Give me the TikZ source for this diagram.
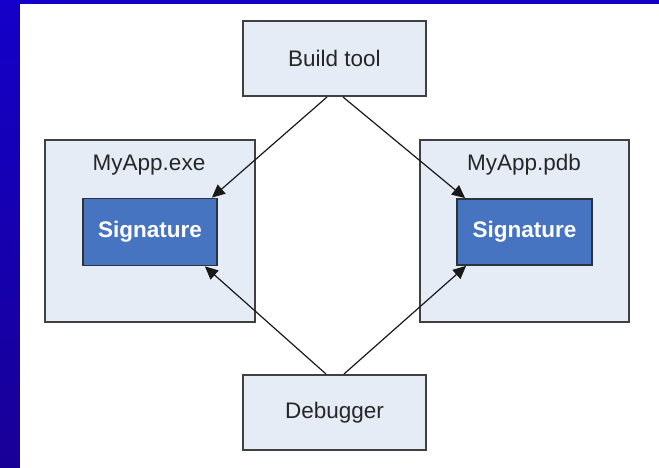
\documentclass[tikz,border=0pt]{standalone}
\usepackage{fontspec}
\setmainfont{Liberation Sans}
\usetikzlibrary{arrows.meta}
\definecolor{bgblue}{RGB}{20,0,200}
\definecolor{bgblue2}{RGB}{24,0,150}
\definecolor{boxfill}{RGB}{230,236,246}
\definecolor{boxline}{RGB}{64,64,64}
\definecolor{sigfill}{RGB}{70,116,193}
\definecolor{sigline}{RGB}{45,50,60}
\definecolor{arrowcol}{RGB}{25,25,25}
\tikzset{
  lightbox/.style={draw=boxline, line width=2pt, fill=boxfill, inner sep=0pt},
  sigbox/.style={draw=sigline, line width=1.8pt, fill=sigfill, inner sep=0pt, text=white, font=\fontsize{22.5}{26}\selectfont\bfseries},
  lbl/.style={font=\fontsize{22.5}{26}\selectfont, text=black!85},
  arr/.style={draw=arrowcol, line width=1.2pt, -{Triangle[length=13pt,width=12pt]}},
}
\begin{document}
\begin{tikzpicture}[x=1pt,y=-1pt]
\useasboundingbox (0,0) rectangle (659,468);
\shade[top color=bgblue, bottom color=bgblue2] (0,0) rectangle (659,468);
\fill[white] (20,4) rectangle (659,468);
% boxes
\node[lightbox, minimum width=183pt, minimum height=75pt] (build) at (334.5,58.5) {};
\node[lbl] at (build.center) {Build tool};
\node[lightbox, minimum width=183pt, minimum height=75pt] (debug) at (334.5,412.5) {};
\node[lbl] at (debug.center) {Debugger};
\node[lightbox, minimum width=210pt, minimum height=182pt] (exe) at (150,231) {};
\node[lbl] (exelbl) at (149,165) {MyApp.exe};
\node[lightbox, minimum width=209pt, minimum height=182pt] (pdb) at (524.5,231) {};
\node[lbl] (pdblbl) at (524,165) {MyApp.pdb};
\node[sigbox, minimum width=134pt, minimum height=67pt] (sigL) at (150,232) {Signature};
\node[sigbox, minimum width=135pt, minimum height=66pt] (sigR) at (524.5,232) {Signature};
% connectors
\coordinate (b1) at ([xshift=-7.5pt]build.south);
\coordinate (b2) at ([xshift=8.5pt]build.south);
\coordinate (d1) at ([xshift=-8.5pt]debug.north);
\coordinate (d2) at ([xshift=9.5pt]debug.north);
\draw[arr] (b1) -- ([xshift=-6pt]sigL.north east);
\draw[arr] (b2) -- ([xshift=9pt]sigR.north west);
\draw[arr] (d1) -- ([xshift=-13pt]sigL.south east);
\draw[arr] (d2) -- ([xshift=10pt]sigR.south west);
\end{tikzpicture}
\end{document}
